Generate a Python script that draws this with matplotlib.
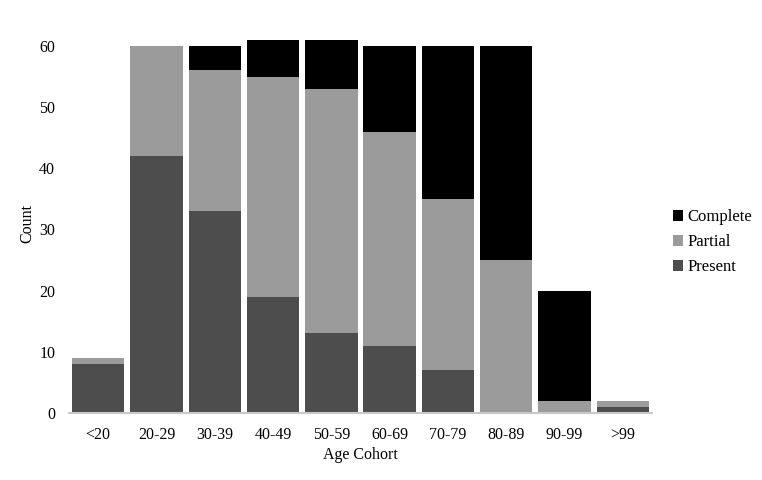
import matplotlib
matplotlib.use("Agg")
import matplotlib.pyplot as plt
import numpy as np

# age cohorts and counts per category
cohorts = ['<20', '20-29', '30-39', '40-49', '50-59', '60-69', '70-79', '80-89', '90-99', '>99']
present = [8, 42, 33, 19, 13, 11, 7, 0, 0, 1]
partial = [1, 18, 23, 36, 40, 35, 28, 25, 2, 1]
complete = [0, 0, 4, 6, 8, 14, 25, 35, 18, 0]

plt.rcParams['font.family'] = ['Liberation Serif', 'DejaVu Serif']
plt.rcParams['font.size'] = 11.5

fig = plt.figure(figsize=(7.62, 4.8), dpi=100)
ax = fig.add_axes([0.0906, 0.1396, 0.7650, 0.7902])

x = np.arange(len(cohorts))
w = 0.9
bot2 = np.array(present) + np.array(partial)
ax.bar(x, present, w, color='#4d4d4d', label='Present')
ax.bar(x, partial, w, bottom=present, color='#9b9b9b', label='Partial')
ax.bar(x, complete, w, bottom=bot2, color='#000000', label='Complete')

ax.set_xlim(-0.5, len(cohorts) - 0.5)
ax.set_ylim(0, 62)
ax.set_yticks([0, 10, 20, 30, 40, 50, 60])
ax.set_xticks(x)
ax.set_xticklabels(cohorts)
ax.tick_params(axis='both', length=0)
ax.tick_params(axis='x', pad=10)
ax.tick_params(axis='y', pad=10)

for s in ['top', 'right', 'left']:
    ax.spines[s].set_visible(False)
ax.spines['bottom'].set_color('#c8c8c8')
ax.spines['bottom'].set_linewidth(1.5)

ax.set_xlabel('Age Cohort', labelpad=3)
ax.set_ylabel('Count', labelpad=3)

h, l = ax.get_legend_handles_labels()
ax.legend(h[::-1], l[::-1], loc='center left', bbox_to_anchor=(1.01, 0.45),
          frameon=False, handlelength=0.6, handleheight=0.6, handletextpad=0.3,
          labelspacing=0.55, fontsize=12)

fig.savefig('out.png', dpi=100)
